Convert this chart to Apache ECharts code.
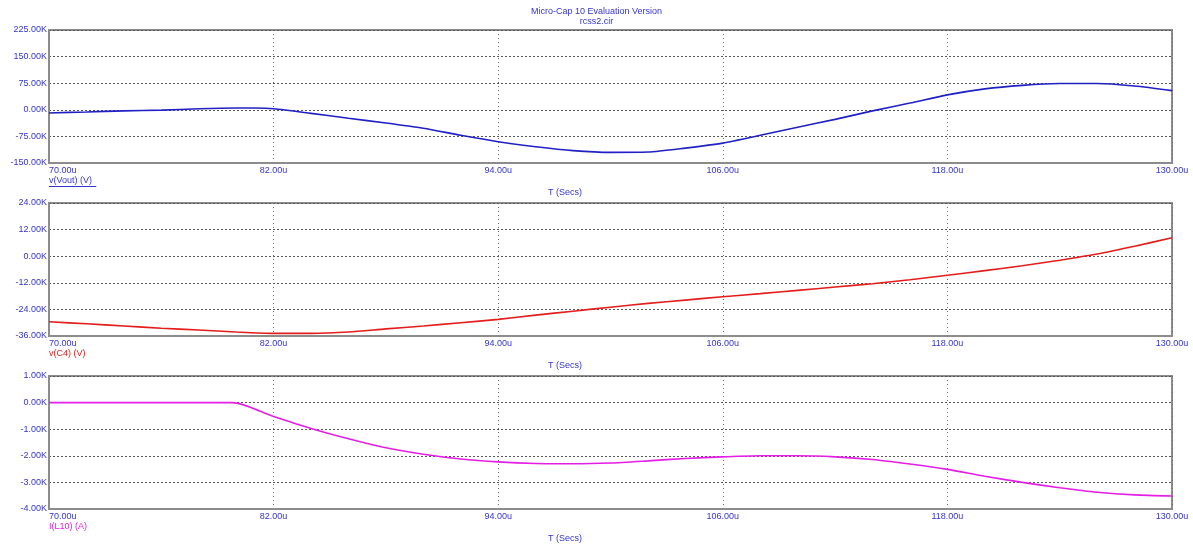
<!DOCTYPE html>
<html>
<head>
<meta charset="utf-8">
<script src="https://cdn.jsdelivr.net/npm/echarts@6/dist/echarts.min.js"></script>
<style>
  html, body { margin: 0; padding: 0; background: #ffffff; }
  #chart { width: 1193px; height: 546px; }
</style>
</head>
<body>
<div id="chart"></div>
<script>
// Transient analysis traces, time in microseconds
const titleLines = ['Micro-Cap 10 Evaluation Version', 'rcss2.cir'];
const timeTicks = [70, 82, 94, 106, 118, 130];

// v(Vout) in kV
const tVout = [70, 72, 74, 76, 78, 80, 81, 82, 84, 86, 88, 90, 92, 94, 96, 98, 100, 102, 104, 106, 108, 110, 112, 114, 116, 118, 120, 122, 124, 126, 128, 130];
const vVout = [-9, -6, -3, -1, 3, 5, 5, 3, -10, -24, -37, -52, -72, -90, -104, -115, -120, -119, -108, -94, -72, -49, -27, -3, 19, 42, 59, 69, 74, 74, 67, 54];

// v(C4) in kV
const tC4 = [70, 72, 74, 76, 78, 80, 82, 84, 86, 88, 90, 92, 94, 96, 98, 100, 102, 104, 106, 108, 110, 112, 114, 116, 118, 120, 122, 124, 126, 128, 130];
const vC4 = [-29.6, -30.5, -31.5, -32.5, -33.3, -34.2, -34.8, -34.8, -34.2, -32.8, -31.5, -30, -28.5, -26.6, -24.8, -23, -21.3, -19.8, -18.3, -16.9, -15.4, -13.9, -12.4, -10.6, -8.6, -6.5, -4.3, -1.8, 1, 4.5, 8.3];

// I(L10) in kA
const tL10 = [70, 72, 74, 76, 78, 79.8, 82, 84, 86, 88, 90, 92, 94, 96, 98, 100, 102, 104, 106, 108, 110, 112, 114, 116, 118, 120, 122, 124, 126, 128, 130];
const iL10 = [0, 0, 0, 0, 0, 0, -0.52, -0.97, -1.36, -1.7, -1.94, -2.12, -2.23, -2.29, -2.3, -2.27, -2.19, -2.1, -2.04, -2.0, -2.0, -2.04, -2.14, -2.31, -2.51, -2.77, -3.0, -3.2, -3.37, -3.47, -3.51];

// y ranges per panel [min, max, interval]
const yVout = [-150, 225, 75];
const yC4 = [-36, 24, 12];
const yL10 = [-4, 1, 1];

const traceNames = ['v(Vout) (V)', 'v(C4) (V)', 'I(L10) (A)'];
const traceColors = ['#2020c4', '#e41c1c', '#e41ee4'];
const xAxisName = 'T (Secs)';

const labelBlue = '#3434d0';
const font = "'Liberation Sans', Arial, sans-serif";

const pairs = (t, v) => t.map((x, i) => [x, v[i]]);

const panelTops = [30, 203, 376];
const panelH = 133;
const plotLeft = 49;
const plotW = 1123;

const ranges = [yVout, yC4, yL10];
const seriesData = [pairs(tVout, vVout), pairs(tC4, vC4), pairs(tL10, iL10)];

const grids = panelTops.map(top => ({
  left: plotLeft, top: top, width: plotW, height: panelH,
  show: true, borderColor: '#8c8c8c', borderWidth: 2, backgroundColor: '#ffffff'
}));

const xAxes = panelTops.map((_, i) => ({
  type: 'value', gridIndex: i, min: timeTicks[0], max: timeTicks[timeTicks.length - 1], interval: 12,
  axisLine: { show: true, onZero: false, lineStyle: { color: '#8c8c8c', width: 2 } },
  axisTick: { show: false },
  splitLine: { show: true, lineStyle: { color: '#6a6a6a', type: [1, 3], width: 1 } },
  axisLabel: {
    color: labelBlue, fontFamily: font, fontSize: 9, margin: 3,
    alignMinLabel: 'left',
    formatter: v => v.toFixed(2) + 'u'
  }
}));

const yAxes = ranges.map((r, i) => ({
  type: 'value', gridIndex: i, min: r[0], max: r[1], interval: r[2],
  axisLine: { show: true, onZero: false, lineStyle: { color: '#8c8c8c', width: 2 } },
  axisTick: { show: false },
  splitLine: { show: true, lineStyle: { color: '#555555', type: [2, 2], width: 1 } },
  axisLabel: {
    color: labelBlue, fontFamily: font, fontSize: 9, margin: 2,
    formatter: v => v.toFixed(2) + 'K'
  }
}));

const series = seriesData.map((d, i) => ({
  type: 'line', xAxisIndex: i, yAxisIndex: i, data: d,
  showSymbol: false, smooth: 0.25,
  lineStyle: { color: traceColors[i], width: 1.6 },
  animation: false
}));

const graphics = [];
// header
titleLines.forEach((s, k) => {
  graphics.push({
    type: 'text', left: 'center', top: 7 + k * 10, z: 10,
    style: { text: s, fill: labelBlue, font: '9px ' + font }
  });
});
panelTops.forEach((top, i) => {
  const base = top + panelH;
  // trace name under the left end of the time axis
  const nameW = traceNames[i].length * 4.3;
  graphics.push({
    type: 'text', left: plotLeft, top: base + 13, z: 10,
    style: { text: traceNames[i], fill: i === 0 ? labelBlue : traceColors[i], font: '9px ' + font }
  });
  if (i === 0) {
    graphics.push({
      type: 'line', z: 10,
      shape: { x1: plotLeft, y1: base + 23.5, x2: plotLeft + nameW, y2: base + 23.5 },
      style: { stroke: labelBlue, lineWidth: 1 }
    });
  }
  // time axis caption
  graphics.push({
    type: 'text', left: 548, top: base + 25, z: 10,
    style: { text: xAxisName, fill: labelBlue, font: '9px ' + font }
  });
});

const chart = echarts.init(document.getElementById('chart'), null, { renderer: 'canvas' });
chart.setOption({
  animation: false,
  backgroundColor: '#ffffff',
  grid: grids,
  xAxis: xAxes,
  yAxis: yAxes,
  series: series,
  graphic: graphics
});
</script>
</body>
</html>
